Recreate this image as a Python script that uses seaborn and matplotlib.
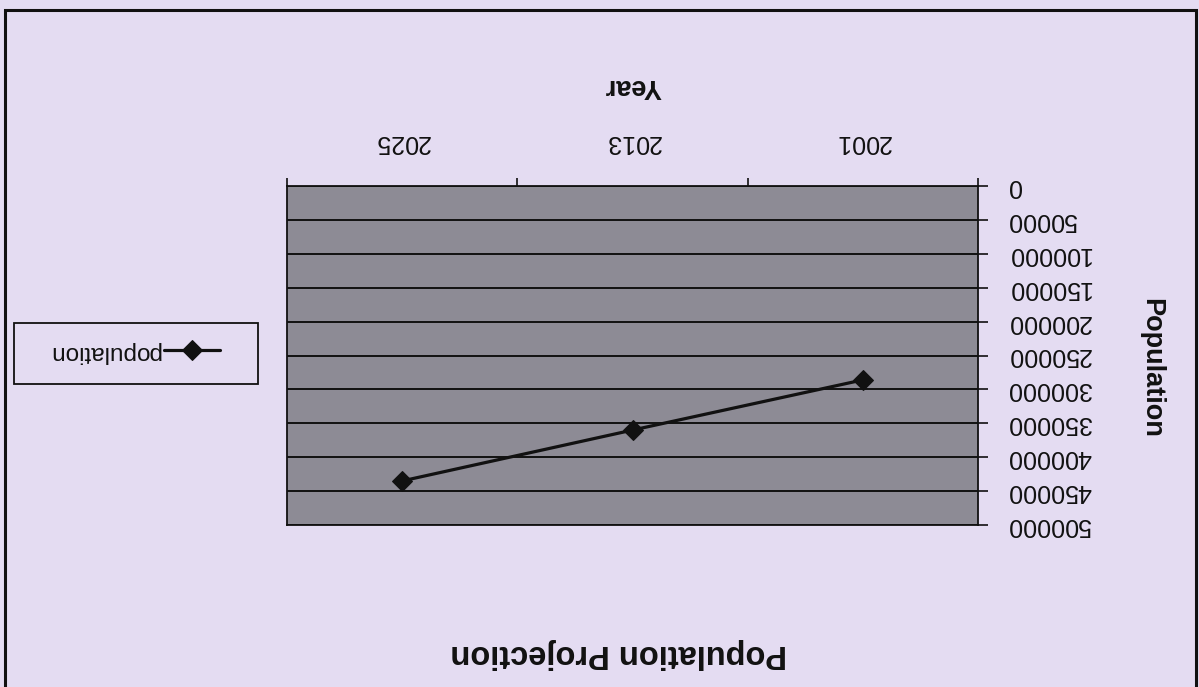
import matplotlib
matplotlib.use("Agg")
import matplotlib.pyplot as plt
import pandas as pd
import seaborn as sns
from matplotlib.patches import Rectangle

# Data
years = ["2001", "2013", "2025"]
population = [286000, 360000, 435000]
y_ticks = [0, 50000, 100000, 150000, 200000, 250000, 300000, 350000, 400000, 450000, 500000]
series_name = "population"
chart_title = "Population Projection"
x_title = "Year"
y_title = "Population"

sns.set_style("white")
plt.rcParams["font.family"] = ["Liberation Sans", "DejaVu Sans"]

PAPER = "#e4dcf2"
PLOT_BG = "#8d8b95"
INK = "#111111"

W, H = 1199, 687
fig = plt.figure(figsize=(W / 100, H / 100), dpi=100, facecolor=PAPER)


def fx(px):
    return px / W


def fy(py):
    return 1 - py / H


# Plot area (the whole chart is shown turned upside down)
ax = fig.add_axes([fx(287), fy(525), fx(978) - fx(287), fy(186) - fy(525)])
ax.set_facecolor(PLOT_BG)

df = pd.DataFrame({"Year": years, "Population": population})
sns.lineplot(data=df, x="Year", y="Population", ax=ax, color=INK,
             linewidth=2.3, marker="D", markersize=10,
             markeredgecolor=INK, markerfacecolor=INK, label=series_name)
if ax.get_legend() is not None:
    ax.get_legend().remove()

ax.set_xlim(len(years) - 0.5, -0.5)
ax.set_ylim(y_ticks[-1], y_ticks[0])

# Value axis on the right, labels rotated
ax.yaxis.tick_right()
ax.set_yticks(y_ticks)
ax.set_yticklabels([str(v) for v in y_ticks], rotation=180, va="center",
                   fontsize=18, color=INK)
ax.tick_params(axis="y", direction="out", length=7, width=1.2, color=INK,
               pad=14, right=True, left=False)
ax.yaxis.grid(True, color=INK, linewidth=1.4)
ax.xaxis.grid(False)

# Category axis on top
ax.xaxis.tick_top()
ax.set_xticks(range(len(years)))
ax.set_xticklabels(years, rotation=180, fontsize=18, color=INK)
ax.set_xticks([i - 0.5 for i in range(len(years) + 1)], minor=True)
ax.tick_params(axis="x", which="major", length=0, pad=23, top=True, bottom=False)
ax.tick_params(axis="x", which="minor", length=6, width=1.2, color=INK,
               direction="out", top=True, bottom=False)
ax.set_xlabel("")
ax.set_ylabel("")

for s in ax.spines.values():
    s.set_visible(True)
    s.set_color(INK)
    s.set_linewidth(1.3)

# Titles
fig.text(fx(633), fy(86), x_title, rotation=180, ha="center", va="center",
         fontsize=19.5, fontweight="bold", color=INK)
fig.text(fx(1151), fy(368), y_title, rotation=270, ha="center", va="center",
         fontsize=19.5, fontweight="bold", color=INK)
fig.text(fx(619), fy(653), chart_title, rotation=180, ha="center", va="center",
         fontsize=23.5, fontweight="bold", color=INK)

# Legend
handles, labels = ax.get_legend_handles_labels()
leg = fig.legend(handles, labels, loc="center",
                 bbox_to_anchor=(fx(134), fy(352)), frameon=False,
                 markerfirst=False, fontsize=17.5, handlelength=2.3,
                 handletextpad=0.15, borderpad=0)
for t in leg.get_texts():
    t.set_rotation(180)
    t.set_color(INK)
fig.patches.append(Rectangle((fx(14), fy(384)), fx(258) - fx(14), fy(323) - fy(384),
                             transform=fig.transFigure, fill=False,
                             edgecolor=INK, linewidth=1.3))

# Outer frame
fig.patches.append(Rectangle((fx(5), -0.02), fx(1196) - fx(5), fy(10) + 0.02,
                             transform=fig.transFigure, fill=False,
                             edgecolor=INK, linewidth=2.2))

fig.savefig("out.png", dpi=100, facecolor=PAPER)
